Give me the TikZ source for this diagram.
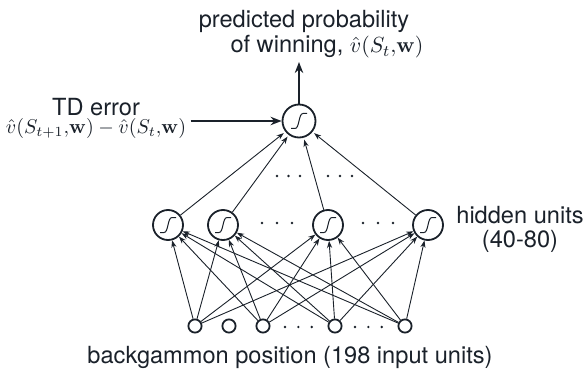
\documentclass[tikz,border=0pt]{standalone}
\usepackage[no-math]{fontspec}
\setmainfont{TeX Gyre Heros}
\usetikzlibrary{arrows.meta}
\definecolor{ink}{RGB}{26,33,42}
\newcommand{\msz}{\fontsize{10.4}{12}\selectfont}

\begin{document}
\begin{tikzpicture}[x=0.5pt,y=-0.5pt,>={Stealth[length=3.6pt,width=2.6pt]},
  every node/.style={text=ink,font=\fontsize{11.8}{14}\selectfont},
  sigm/.style={circle,draw=ink,line width=0.9pt,inner sep=0pt,minimum size=15pt,
    path picture={\draw[ink,line width=0.5pt,shift={(path picture bounding box.center)}]
      (-8,7.5) -- (-4,7.5) .. controls (0.6,7.5) and (-0.6,-7.5) .. (4,-7.5) -- (8,-7.5);}},
  inp/.style={circle,draw=ink,line width=0.9pt,inner sep=0pt,minimum size=6.6pt},
  conn/.style={->,draw=ink,line width=0.45pt},
  bigarrow/.style={-{Stealth[length=5.5pt,width=4.2pt]},draw=ink,line width=1pt}]
  \useasboundingbox (0,0) rectangle (584,369);

  % units
  \node[sigm,minimum size=16.5pt] (out) at (299,121) {};
  \foreach \n/\x in {1/168,2/223,3/328,4/428}
    \node[sigm] (h\n) at (\x,225) {};
  \foreach \n/\x in {1/195,2/229,3/263,4/335,5/405}
    \node[inp] (i\n) at (\x,326) {};

  % weights (input 2 has none)
  \foreach \i in {1,3,4,5}
    \foreach \h in {1,...,4}
      \draw[conn] (i\i) -- (h\h);
  \foreach \h in {1,...,4}
    \draw[conn,shorten >=1pt] (h\h) -- (out);

  % dots
  \foreach \x in {277,288.5,300,328,340,352} \fill[ink] (\x,176) circle (1.3);
  \foreach \x in {262,277,292,363,378,393} \fill[ink] (\x,223) circle (1.3);
  \foreach \x in {285,298.3,311.7,355,368.3,381.7} \fill[ink] (\x,327) circle (1.3);

  % output and TD error
  \coordinate (top) at (299,62);
  \draw[bigarrow] (out) -- (top);
  \node[anchor=base] (pp1) at (304,28) {predicted probability};
  \node[anchor=base] (pp2) at (327,53) {of winning, {\fontsize{10.8}{13}\selectfont$\hat v(S_t{,}\mathbf{w})$}};
  \node[anchor=north,align=center,inner sep=2pt] (td) at (96,94)
    {TD error\\[-5pt]{\msz$\hat v(S_{t+1}{,}\mathbf{w})-\hat v(S_t{,}\mathbf{w})$}};
  \draw[bigarrow] (td.east |- out) -- (out);

  % layer labels
  \node[align=center,font=\fontsize{11.8}{12}\selectfont] (hid) at (520,229) {hidden units\\(40-80)};
  \node[anchor=base] (bg) at (290,363) {backgammon position (198 input units)};
\end{tikzpicture}
\end{document}
